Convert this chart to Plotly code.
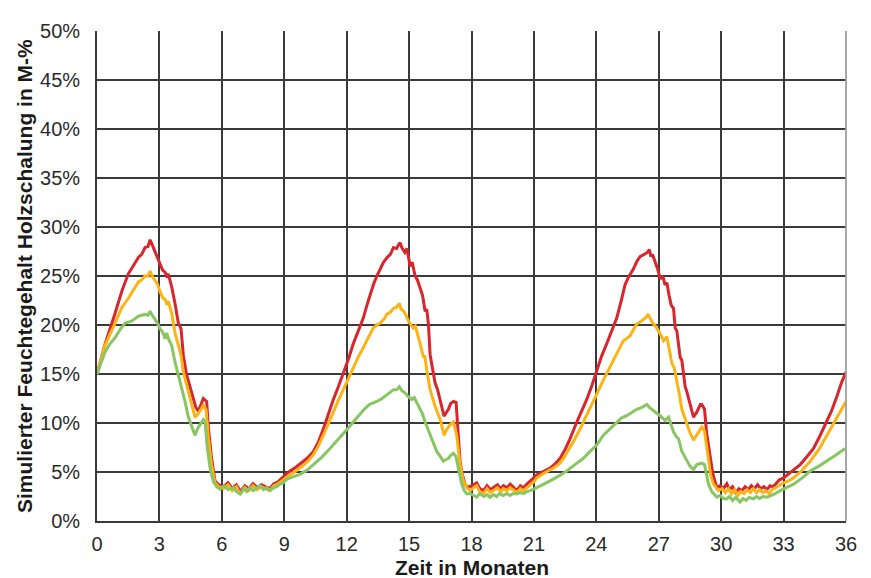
import plotly.graph_objects as go

# ---------------- data (months, moisture content in %) ----------------
red_x = [0, 0.38, 0.87, 1.2, 1.5, 1.75, 1.99, 2.15, 2.31, 2.45, 2.55, 2.65, 2.79, 2.9, 3.03, 3.15, 3.27, 3.35, 3.43, 3.59,
         3.75, 3.85, 3.91, 4.04, 4.15, 4.31, 4.55, 4.75, 4.87, 5.0, 5.11, 5.27, 5.35, 5.5, 5.67, 5.85, 6.07, 6.3, 6.5, 6.7,
         6.9, 7.1, 7.3, 7.5, 7.7, 7.9, 8.1, 8.3, 8.5, 8.7, 8.9, 9.1, 9.28, 9.5, 9.76, 10.1, 10.4, 10.65, 10.88, 11.1,
         11.36, 11.6, 11.84, 12.1, 12.32, 12.55, 12.8, 13.0, 13.13, 13.3, 13.45, 13.6, 13.77, 13.95, 14.1, 14.25, 14.4, 14.5, 14.57, 14.65,
         14.8, 14.9, 15.05, 15.15, 15.29, 15.4, 15.53, 15.65, 15.77, 15.85, 15.93, 16.01, 16.09, 16.25, 16.37, 16.49, 16.6, 16.68, 16.8, 16.89,
         17.0, 17.13, 17.26, 17.35, 17.45, 17.55, 17.69, 17.8, 17.93, 18.1, 18.25, 18.4, 18.57, 18.75, 18.9, 19.05, 19.25, 19.4, 19.53, 19.7,
         19.86, 20.0, 20.17, 20.35, 20.5, 20.66, 20.85, 21.0, 21.14, 21.4, 21.78, 22.0, 22.26, 22.5, 22.74, 23.06, 23.3, 23.54, 23.8, 24.02,
         24.25, 24.5, 24.75, 24.98, 25.2, 25.38, 25.55, 25.78, 25.95, 26.11, 26.3, 26.45, 26.55, 26.62, 26.7, 26.83, 26.95, 27.07, 27.2, 27.3,
         27.39, 27.5, 27.6, 27.71, 27.79, 27.87, 28.03, 28.11, 28.27, 28.35, 28.5, 28.67, 28.85, 29.0, 29.07, 29.2, 29.3, 29.47, 29.6, 29.79,
         29.95, 30.1, 30.27, 30.4, 30.55, 30.7, 30.85, 31.0, 31.15, 31.3, 31.45, 31.6, 31.75, 31.9, 32.05, 32.2, 32.35, 32.5, 32.65, 32.8,
         33.0, 33.3, 33.55, 33.8, 34.1, 34.44, 34.75, 35.08, 35.3, 35.56, 35.8, 36.0]
red_y = [15.0, 18.0, 21.2, 23.5, 25.2, 26.0, 26.9, 27.2, 27.9, 28.0, 28.7, 28.2, 27.5, 27.0, 26.2, 25.6, 25.4, 25.0, 25.2, 23.9,
         22.2, 20.6, 20.2, 19.6, 16.9, 14.9, 13.2, 11.6, 11.2, 12.0, 12.5, 12.2, 9.6, 6.5, 4.1, 3.7, 3.5, 3.9, 3.3, 3.7,
         3.0, 3.6, 3.3, 3.8, 3.4, 3.7, 3.5, 3.3, 3.8, 4.0, 4.4, 4.8, 5.1, 5.4, 5.8, 6.4, 7.1, 8.1, 9.4, 10.8,
         12.4, 13.7, 15.0, 16.6, 18.1, 19.4, 20.7, 22.2, 23.1, 24.2, 25.0, 25.6, 26.4, 26.9, 27.2, 27.9, 27.8, 28.2, 28.4, 27.9,
         27.4, 27.8, 26.0, 26.4, 25.0, 24.6, 23.7, 23.0, 21.4, 21.6, 20.1, 17.0, 16.0, 14.1, 13.4, 12.4, 11.5, 10.7, 11.1, 11.4,
         12.0, 12.2, 12.1, 9.0, 6.1, 4.8, 3.76, 3.4, 3.5, 3.7, 3.9, 3.3, 3.1, 3.6, 3.2, 3.4, 3.7, 3.3, 3.6, 3.4,
         3.76, 3.5, 3.1, 3.6, 3.4, 3.76, 4.1, 4.4, 4.7, 5.0, 5.4, 5.8, 6.4, 7.3, 8.4, 10.1, 11.2, 12.4, 13.9, 15.4,
         16.8, 18.1, 19.4, 20.7, 22.5, 24.1, 24.9, 25.7, 26.5, 27.0, 27.2, 27.4, 27.7, 27.0, 27.2, 26.4, 25.7, 24.7, 25.0, 24.1,
         24.3, 23.0, 22.0, 21.7, 19.7, 19.4, 16.7, 16.4, 13.7, 13.2, 12.0, 10.6, 11.2, 11.9, 11.9, 11.4, 9.0, 6.8, 4.8, 3.4,
         3.6, 3.3, 3.8, 3.2, 3.5, 2.9, 3.3, 3.1, 3.5, 3.2, 3.6, 3.3, 3.7, 3.3, 3.5, 3.2, 3.6, 3.5, 3.9, 4.2,
         4.4, 4.9, 5.3, 5.76, 6.5, 7.4, 8.7, 10.1, 11.2, 12.7, 14.2, 15.2]

orange_x = [0, 0.38, 0.87, 1.2, 1.5, 1.75, 1.99, 2.15, 2.31, 2.45, 2.55, 2.65, 2.79, 2.9, 3.03, 3.15, 3.27, 3.35, 3.43, 3.59,
            3.75, 3.91, 4.04, 4.15, 4.39, 4.55, 4.71, 4.85, 5.03, 5.11, 5.24, 5.35, 5.5, 5.67, 5.85, 6.07, 6.3, 6.5, 6.7, 6.88,
            7.1, 7.3, 7.5, 7.7, 7.9, 8.1, 8.3, 8.5, 8.7, 8.9, 9.1, 9.28, 9.5, 9.76, 10.1, 10.4, 10.65, 10.88, 11.1, 11.36,
            11.6, 11.84, 12.1, 12.32, 12.55, 12.8, 13.05, 13.28, 13.45, 13.61, 13.8, 13.93, 14.1, 14.25, 14.4, 14.53, 14.62, 14.75, 14.85, 14.97,
            15.1, 15.2, 15.3, 15.37, 15.53, 15.69, 15.75, 15.85, 16.01, 16.25, 16.49, 16.6, 16.68, 16.8, 16.89, 17.0, 17.13, 17.29, 17.45, 17.6,
            17.77, 17.93, 18.1, 18.25, 18.4, 18.57, 18.75, 18.9, 19.05, 19.25, 19.4, 19.53, 19.7, 19.86, 20.0, 20.17, 20.35, 20.5, 20.66, 20.85,
            21.0, 21.14, 21.5, 21.94, 22.2, 22.42, 22.65, 22.9, 23.15, 23.38, 23.62, 23.86, 24.1, 24.34, 24.58, 24.82, 25.05, 25.3, 25.45, 25.62,
            25.8, 25.94, 26.1, 26.27, 26.4, 26.5, 26.6, 26.75, 26.9, 27.07, 27.23, 27.39, 27.5, 27.63, 27.75, 27.87, 28.0, 28.11, 28.25, 28.35,
            28.5, 28.67, 28.85, 29.07, 29.2, 29.39, 29.5, 29.63, 29.87, 30.05, 30.2, 30.35, 30.5, 30.65, 30.8, 30.95, 31.1, 31.25, 31.4, 31.55,
            31.7, 31.85, 32.0, 32.15, 32.3, 32.45, 32.6, 32.8, 33.0, 33.25, 33.48, 33.9, 34.28, 34.7, 35.08, 35.5, 35.75, 36.0]
orange_y = [15.0, 17.9, 20.2, 21.8, 22.7, 23.6, 24.4, 24.6, 25.0, 25.0, 25.5, 25.0, 24.6, 24.2, 23.4, 22.8, 22.6, 22.2, 22.4, 21.2,
            19.2, 17.9, 16.9, 15.2, 13.2, 11.8, 10.6, 10.9, 11.6, 11.8, 11.4, 8.5, 5.8, 3.9, 3.5, 3.3, 3.7, 3.1, 3.5, 2.7,
            3.4, 3.1, 3.6, 3.2, 3.5, 3.3, 3.1, 3.6, 3.8, 4.1, 4.5, 4.76, 5.0, 5.4, 6.0, 6.76, 7.7, 8.75, 9.9, 11.1,
            12.3, 13.4, 14.6, 15.7, 16.7, 17.7, 18.8, 19.7, 20.0, 20.2, 20.6, 21.1, 21.3, 21.7, 21.8, 22.2, 21.6, 21.4, 21.0, 20.4,
            20.0, 19.7, 19.9, 19.4, 18.1, 16.7, 16.9, 15.4, 13.4, 11.7, 10.4, 9.5, 8.75, 9.3, 9.6, 9.9, 10.1, 8.75, 5.76, 4.2,
            3.4, 3.1, 3.4, 3.6, 3.0, 2.8, 3.3, 2.9, 3.1, 3.4, 3.0, 3.3, 3.1, 3.4, 3.2, 2.9, 3.3, 3.1, 3.4, 3.7,
            4.0, 4.4, 4.9, 5.4, 5.8, 6.4, 7.2, 8.1, 9.1, 10.1, 11.1, 12.1, 13.3, 14.4, 15.4, 16.4, 17.4, 18.4, 18.6, 18.9,
            19.6, 20.1, 20.3, 20.6, 20.8, 21.1, 20.6, 20.1, 19.7, 19.1, 18.4, 18.8, 17.6, 16.1, 15.6, 14.4, 12.8, 11.4, 10.5, 9.75,
            9.0, 8.25, 8.9, 9.6, 9.2, 6.1, 4.6, 3.76, 3.1, 3.3, 2.9, 3.3, 2.8, 3.2, 2.6, 3.0, 2.8, 3.2, 2.9, 3.3,
            2.9, 3.2, 2.9, 3.1, 2.8, 3.2, 3.4, 3.7, 3.9, 4.1, 4.4, 5.2, 6.1, 7.3, 8.75, 10.4, 11.2, 12.2]

green_x = [0, 0.2, 0.38, 0.6, 0.87, 1.1, 1.35, 1.5, 1.66, 1.8, 1.99, 2.15, 2.3, 2.45, 2.55, 2.65, 2.79, 2.9, 3.03, 3.15,
           3.27, 3.35, 3.43, 3.59, 3.75, 3.91, 4.07, 4.23, 4.39, 4.55, 4.71, 4.85, 5.0, 5.11, 5.2, 5.3, 5.45, 5.6, 5.75, 5.91,
           6.1, 6.3, 6.55, 6.7, 6.88, 7.05, 7.2, 7.36, 7.5, 7.65, 7.84, 8.0, 8.15, 8.32, 8.5, 8.65, 8.8, 8.95, 9.12, 9.4,
           9.76, 10.1, 10.4, 10.8, 11.2, 11.6, 12.0, 12.4, 12.8, 13.1, 13.45, 13.7, 13.93, 14.1, 14.25, 14.4, 14.53, 14.65, 14.8, 14.95,
           15.13, 15.25, 15.37, 15.53, 15.65, 15.77, 15.9, 16.01, 16.15, 16.33, 16.5, 16.65, 16.8, 16.89, 17.0, 17.13, 17.25, 17.35, 17.53, 17.65,
           17.77, 17.95, 18.1, 18.25, 18.4, 18.6, 18.75, 18.89, 19.05, 19.2, 19.35, 19.53, 19.7, 19.85, 20.0, 20.17, 20.35, 20.5, 20.66, 20.82,
           21.14, 21.45, 21.78, 22.2, 22.58, 23.0, 23.38, 23.7, 24.02, 24.34, 24.65, 24.98, 25.2, 25.46, 25.7, 25.94, 26.2, 26.43, 26.55, 26.75,
           26.9, 27.07, 27.2, 27.31, 27.47, 27.6, 27.71, 27.85, 27.95, 28.11, 28.25, 28.35, 28.5, 28.67, 28.83, 29.07, 29.2, 29.3, 29.39, 29.55,
           29.79, 29.95, 30.1, 30.27, 30.4, 30.55, 30.7, 30.91, 31.05, 31.2, 31.35, 31.55, 31.7, 31.85, 32.0, 32.2, 32.4, 32.6, 32.84, 33.15,
           33.48, 33.9, 34.28, 34.7, 35.08, 35.5, 35.96]
green_y = [15.0, 16.2, 17.2, 18.0, 18.7, 19.5, 20.2, 20.3, 20.4, 20.6, 20.9, 21.0, 21.1, 21.0, 21.4, 21.0, 20.6, 20.2, 19.6, 19.3,
           18.6, 19.2, 18.6, 17.9, 16.2, 14.9, 13.6, 12.2, 10.6, 9.75, 8.75, 9.5, 10.0, 10.35, 10.0, 7.5, 5.2, 4.0, 3.5, 3.26,
           3.6, 3.2, 3.4, 3.0, 2.76, 3.3, 3.0, 3.4, 3.1, 3.3, 3.6, 3.2, 3.4, 3.1, 3.4, 3.5, 3.76, 3.9, 4.26, 4.5,
           4.76, 5.2, 5.76, 6.5, 7.4, 8.3, 9.3, 10.3, 11.3, 11.9, 12.2, 12.5, 12.9, 13.1, 13.4, 13.4, 13.7, 13.3, 13.1, 12.7,
           12.4, 12.6, 12.1, 11.4, 10.9, 10.1, 9.4, 8.75, 8.0, 7.1, 6.6, 6.1, 6.3, 6.4, 6.7, 6.9, 6.6, 5.6, 3.76, 3.1,
           2.76, 2.8, 2.6, 2.43, 2.8, 2.5, 2.7, 2.43, 2.7, 2.5, 2.8, 2.6, 2.8, 2.6, 2.8, 2.76, 2.9, 2.8, 3.0, 3.1,
           3.4, 3.7, 4.1, 4.6, 5.1, 5.8, 6.4, 7.1, 7.75, 8.75, 9.4, 10.1, 10.5, 10.75, 11.1, 11.4, 11.6, 11.9, 11.6, 11.2,
           11.0, 10.75, 10.5, 10.25, 10.6, 9.7, 9.1, 8.6, 8.4, 7.1, 6.6, 6.1, 5.6, 5.26, 5.76, 5.9, 5.76, 4.7, 3.76, 3.0,
           2.43, 2.6, 2.3, 2.26, 2.5, 2.1, 2.4, 1.93, 2.3, 2.1, 2.4, 2.26, 2.5, 2.3, 2.5, 2.43, 2.6, 2.8, 3.1, 3.4,
           3.76, 4.4, 5.1, 5.6, 6.1, 6.7, 7.4]

x_ticks = [0, 3, 6, 9, 12, 15, 18, 21, 24, 27, 30, 33, 36]
y_ticks = [0, 5, 10, 15, 20, 25, 30, 35, 40, 45, 50]

x_title = "Zeit in Monaten"
y_title = "Simulierter Feuchtegehalt Holzschalung in M-%"

RED = "#d7262d"
ORANGE = "#fcb316"
GREEN = "#88c563"
GRID = "#3a3a3a"

fig = go.Figure()
for xs, ys, col in [(red_x, red_y, RED), (orange_x, orange_y, ORANGE), (green_x, green_y, GREEN)]:
    fig.add_trace(go.Scatter(x=xs, y=ys, mode="lines", line=dict(color=col, width=3),
                             showlegend=False, hoverinfo="skip"))

FONT = "Liberation Sans, Arial, sans-serif"
tick_font = dict(family=FONT, size=20, color="#2a2a2a")
fig.update_layout(
    width=863, height=570,
    margin=dict(l=89, r=25, t=12, b=57),
    paper_bgcolor="white", plot_bgcolor="white",
    xaxis=dict(range=[0, 36], tickvals=x_ticks, ticktext=[str(v) for v in x_ticks],
               showgrid=True, gridcolor=GRID, gridwidth=1.7,
               showline=True, linecolor=GRID, linewidth=1.7,
               ticks="outside", ticklen=4, tickcolor="rgba(0,0,0,0)",
               tickfont=tick_font, zeroline=False, fixedrange=True),
    yaxis=dict(range=[0, 50], tickvals=y_ticks, ticktext=[f"{v}%" for v in y_ticks],
               showgrid=True, gridcolor=GRID, gridwidth=1.7,
               showline=True, linecolor=GRID, linewidth=1.7,
               ticks="outside", ticklen=11, tickcolor="rgba(0,0,0,0)",
               tickfont=tick_font, zeroline=False, fixedrange=True),
    annotations=[
        dict(text=f"<b>{x_title}</b>", xref="paper", yref="paper", x=0.5, y=0,
             yshift=-46, xanchor="center", yanchor="middle", showarrow=False,
             font=dict(family=FONT, size=21, color="#1a1a1a")),
        dict(text=f"<b>{y_title}</b>", xref="paper", yref="paper", x=0, y=0.5,
             xshift=-73, xanchor="center", yanchor="middle", textangle=-90, showarrow=False,
             font=dict(family=FONT, size=21, color="#1a1a1a")),
    ],
    shapes=[dict(type="line", xref="paper", yref="paper", x0=1, x1=1, y0=0, y1=1,
                 line=dict(color="#9a9a9a", width=1.7))],
)

fig.write_html("out.html")
